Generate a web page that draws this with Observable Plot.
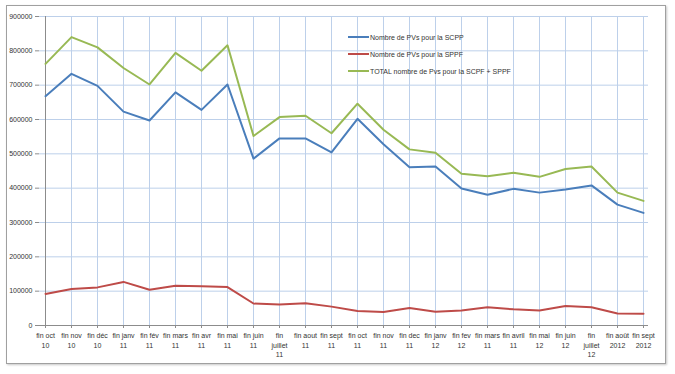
<!DOCTYPE html>
<html>
<head>
<meta charset="utf-8">
<script src="https://cdn.jsdelivr.net/npm/d3@7"></script>
<script src="https://cdn.jsdelivr.net/npm/@observablehq/plot@0.6"></script>
<style>
  html, body { margin: 0; padding: 0; background: #fff; }
  #wrap { position: relative; width: 675px; height: 374px; overflow: hidden; font-family: "Liberation Sans", Arial, sans-serif; }
  #border { position: absolute; left: 6px; top: 5px; width: 658px; height: 357px; border: 1px solid #a0a0a0; box-shadow: 1px 1px 2px #c8c8c8; pointer-events: none; }
  #chart { position: absolute; left: 0; top: 0; }
  .leg { position: absolute; left: 348px; font-size: 7px; color: #333; height: 10px; line-height: 10px; white-space: nowrap; }
  .leg span.sw { display: inline-block; width: 21px; height: 0; border-top: 2px solid; vertical-align: middle; margin-right: 1px; position: relative; top: -1px; }
</style>
</head>
<body>
<div id="wrap">
  <div id="chart"></div>
  <div id="border"></div>
  <div id="legend"></div>
</div>
<script>
const categories = [
  "fin oct\n10", "fin nov\n10", "fin déc\n10", "fin janv\n11", "fin fév\n11", "fin mars\n11",
  "fin avr\n11", "fin mai\n11", "fin juin\n11", "fin\njuillet\n11", "fin aout\n11", "fin sept\n11",
  "fin oct\n11", "fin nov\n11", "fin dec\n11", "fin janv\n12", "fin fev\n12", "fin mars\n11",
  "fin avril\n11", "fin mai\n12", "fin juin\n12", "fin\njuillet\n12", "fin août\n2012", "fin sept\n2012"
];
const scpp = [668000, 733000, 698000, 623000, 597000, 679000, 628000, 702000, 486000, 545000, 545000, 504000,
  602000, 528000, 461000, 463000, 399000, 381000, 398000, 387000, 396000, 408000, 352000, 328000];
const sppf = [92000, 106000, 111000, 127000, 104000, 116000, 114000, 112000, 64000, 61000, 65000, 55000,
  42000, 39000, 51000, 40000, 44000, 53000, 47000, 44000, 57000, 53000, 35000, 34000];
const total = [762000, 840000, 810000, 750000, 702000, 794000, 742000, 816000, 552000, 607000, 611000, 560000,
  646000, 570000, 513000, 503000, 442000, 435000, 445000, 433000, 456000, 463000, 387000, 363000];
const seriesNames = ["Nombre de PVs pour la SCPP", "Nombre de PVs pour la SPPF", "TOTAL nombre de Pvs pour la SCPF + SPPF"];
const seriesColors = ["#4a7ebb", "#be4b48", "#98b954"];
const yTicks = [0, 100000, 200000, 300000, 400000, 500000, 600000, 700000, 800000, 900000];

const idx = categories.map((_, i) => i);
const seriesValues = [scpp, sppf, total];
const rows = [];
seriesValues.forEach((vals, s) => vals.forEach((v, i) => rows.push({i, value: v, series: seriesNames[s]})));

const chart = Plot.plot({
  width: 675,
  height: 374,
  marginLeft: 39,
  marginRight: 27,
  marginTop: 16,
  marginBottom: 49,
  style: {fontFamily: "'Liberation Sans', Arial, sans-serif", fontSize: "7px", color: "#333", background: "transparent"},
  x: {type: "point", domain: idx, padding: 0, axis: null, label: null},
  y: {domain: [0, 900000], axis: null, label: null},
  color: {domain: seriesNames, range: seriesColors},
  marks: [
    Plot.gridY(yTicks, {stroke: "#bdd0ea", strokeOpacity: 1, strokeWidth: 1}),
    Plot.gridX(idx, {stroke: "#bdd0ea", strokeOpacity: 1, strokeWidth: 1}),
    Plot.ruleX([idx[0]], {stroke: "#8c8c8c"}),
    Plot.ruleY([0], {stroke: "#8c8c8c"}),
    Plot.axisY(yTicks, {tickSize: 4, tickPadding: 3, tickFormat: d => String(d), stroke: "#8c8c8c", fill: "#333", fontSize: 7, label: null}),
    Plot.axisX(idx, {tickSize: 3, tickPadding: 3, lineHeight: 1.35, tickFormat: i => categories[i], stroke: "#8c8c8c", fill: "#333", fontSize: 7, label: null}),
    Plot.line(rows, {x: "i", y: "value", z: "series", stroke: "series", strokeWidth: 2, strokeLinejoin: "round"})
  ]
});
document.getElementById("chart").appendChild(chart);

const legend = document.getElementById("legend");
const legTops = [33, 50, 67];
seriesNames.forEach((name, i) => {
  const d = document.createElement("div");
  d.className = "leg";
  d.style.top = legTops[i] + "px";
  d.innerHTML = `<span class="sw" style="border-color:${seriesColors[i]}"></span>${name}`;
  legend.appendChild(d);
});
</script>
</body>
</html>
